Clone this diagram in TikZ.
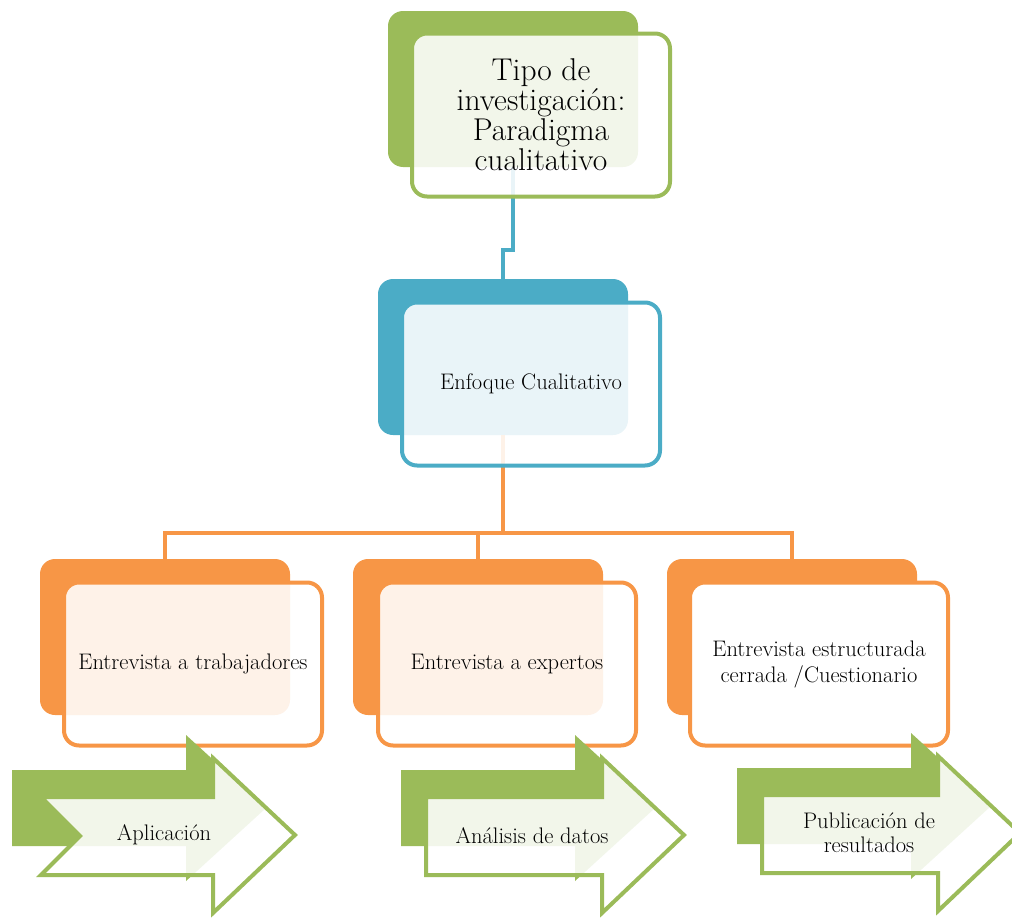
\documentclass[tikz,border=0pt]{standalone}
\usepackage{tikz}
\usetikzlibrary{positioning, calc}
\definecolor{cgreen}{HTML}{9BBB59}
\definecolor{cblue}{HTML}{4BACC6}
\definecolor{corange}{HTML}{F79646}

\begin{document}
\begin{tikzpicture}[x=1pt, y=-1pt,
    backbox/.style={fill=#1, rounded corners=15pt, inner sep=0pt,
        minimum width=250pt, minimum height=156pt},
    frontbox/.style={draw=#1, line width=4pt, fill=white, fill opacity=0.88,
        text opacity=1, rounded corners=15pt, align=center, inner sep=0pt,
        minimum width=258pt, minimum height=163pt,
        font=\fontsize{22.5}{26}\selectfont},
    link/.style={draw=#1, line width=4.5pt},
    backarrow/.style={fill=cgreen},
    frontarrow/.style={draw=cgreen, line width=4pt, fill=white, fill opacity=0.88},
    arrowtext/.style={align=center, font=\fontsize{22.5}{24}\selectfont}
]
    \useasboundingbox (0,0) rectangle (1012,918);

    % ;- back shapes of the boxes ;-
    \node[backbox=cgreen] (tipoB) at (513,89) {};
    \node[backbox=cblue] (enfoqueB) at (503,357) {};
    \node[backbox=corange] (trabB) at (165,637) {};
    \node[backbox=corange] (expB) at (478,637) {};
    \node[backbox=corange] (cuestB) at (792,637) {};

    % connectors (under the front boxes)
    \draw[link=cblue] (tipoB.south) -- ++(0,83) -| (enfoqueB.north);
    \coordinate (hub) at ($(enfoqueB.south)+(0,98)$);
    \draw[link=corange] (enfoqueB.south) -- (hub);
    \draw[link=corange] (trabB.north) -- (trabB.north |- hub)
        -- (cuestB.north |- hub) -- (cuestB.north);
    \draw[link=corange] (expB.north) -- (expB.north |- hub);

    % ;- front boxes with the texts ;-
    \node[frontbox=cgreen, font=\fontsize{31.5}{30}\selectfont] (tipo) at (541,115)
        {Tipo de\\investigación:\\Paradigma\\cualitativo};
    \node[frontbox=cblue] (enfoque) at (531,384) {Enfoque Cualitativo};
    \node[frontbox=corange] (trab) at (193,664) {Entrevista a trabajadores};
    \node[frontbox=corange] (exp) at (507,664) {Entrevista a expertos};
    \node[frontbox=corange, fill opacity=1] (cuest) at (819,664)
        {Entrevista estructurada\\cerrada /Cuestionario};

    % ;- arrows at the bottom ;-
    \foreach \dx/\dy/\lx/\nd in {0/0/41/39, 389/0/37/0, 725/-2/37/0}{
        \begin{scope}[shift={(\dx,\dy)}]
            % filled arrow behind
            \fill[backarrow] (12,770) -- (186,770) -- (186,735) -- (266,808)
                -- (186,881) -- (186,846) -- (12,846) -- cycle;
            % outlined arrow in front
            \filldraw[frontarrow] (\lx,797) -- (213,797) -- (213,758) -- (295,835)
                -- (213,913) -- (213,875) -- (\lx,875) -- ({\lx+\nd},836) -- cycle;
        \end{scope}
    }
    \node[arrowtext] (aplic) at (164,835) {Aplicación};
    \node[arrowtext] (analisis) at (532,836) {Análisis de datos};
    \node[arrowtext] (public) at (869,833) {Publicación de\\resultados};

\end{tikzpicture}
\end{document}
